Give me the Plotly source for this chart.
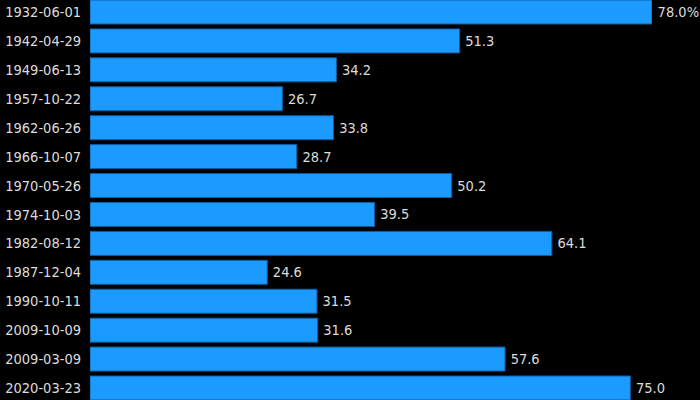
import plotly.graph_objects as go

dates = ["1932-06-01", "1942-04-29", "1949-06-13", "1957-10-22", "1962-06-26",
         "1966-10-07", "1970-05-26", "1974-10-03", "1982-08-12", "1987-12-04",
         "1990-10-11", "2009-10-09", "2009-03-09", "2020-03-23"]
values = [78.0, 51.3, 34.2, 26.7, 33.8, 28.7, 50.2, 39.5, 64.1, 24.6,
          31.5, 31.6, 57.6, 75.0]
labels = [f"\u2009{v:.1f}%" if i == 0 else f"\u2009{v:.1f}" for i, v in enumerate(values)]

FONT = "DejaVu Sans Condensed, DejaVu Sans"
TXT = "#dcdcdc"

fig = go.Figure(go.Bar(
    x=values, y=dates, orientation="h",
    text=labels, textposition="outside", cliponaxis=False,
    textfont=dict(color=TXT, size=14.5, family=FONT),
    marker=dict(color="#1b9bff", line=dict(color="#0f5d9e", width=1)),
))
fig.update_layout(
    width=700, height=400,
    margin=dict(l=90, r=48, t=0, b=0, autoexpand=False),
    paper_bgcolor="black", plot_bgcolor="black",
    bargap=0.17,
    showlegend=False,
    font=dict(family=FONT, color=TXT, size=14.5),
    xaxis=dict(range=[0, 78], visible=False, showgrid=False, zeroline=False,
               automargin=False),
    yaxis=dict(type="category", range=[13.415, -0.415], showgrid=False,
               zeroline=False, ticks="", ticklabelstandoff=8, automargin=False,
               tickfont=dict(color=TXT, size=14.5, family=FONT)),
)
fig.write_html("out.html", config={"displayModeBar": False},
               post_script="document.body.style.margin='0';document.body.style.background='black';document.body.style.overflow='hidden';")
